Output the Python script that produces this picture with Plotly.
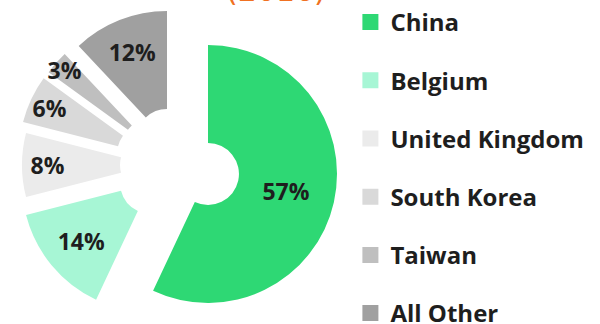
import plotly.graph_objects as go

# Share of imports by origin (percent)
countries = ["China", "Belgium", "United Kingdom", "South Korea", "Taiwan", "All Other"]
shares = [57, 14, 8, 6, 3, 12]
slice_labels = [f"{v}%" for v in shares]

# Styling
colors = ["#2ED874", "#A7F6D5", "#EBEBEB", "#D9D9D9", "#BFBFBF", "#A0A0A0"]
W, H = 600, 324
CX, CY, R = 208, 174, 129          # donut centre and outer radius, px
HOLE = 0.24
# exploded offset of each wedge from the donut centre, px (dx right, dy down)
explode = {
    "China": (0, 0),
    "Belgium": (-57, 9),
    "United Kingdom": (-57, -9),
    "South Korea": (-60, -20),
    "Taiwan": (-55, -26),
    "All Other": (-41, -34),
}
FONT = "Open Sans"

fig = go.Figure()

# One pie per wedge: every trace lays out all values so the angles are shared,
# but only its own wedge is painted, which lets each wedge sit at its own offset.
for i, name in enumerate(countries):
    dx, dy = explode[name]
    cx, cy = CX + dx, CY + dy
    fig.add_trace(go.Pie(
        labels=countries,
        values=shares,
        sort=False,
        direction="clockwise",
        rotation=0,
        hole=HOLE,
        marker=dict(
            colors=[colors[j] if j == i else "rgba(0,0,0,0)" for j in range(len(countries))],
            line=dict(width=0),
        ),
        text=[slice_labels[j] if j == i else "" for j in range(len(countries))],
        textinfo="text",
        textposition="inside",
        insidetextorientation="horizontal",
        textfont=dict(family=FONT, size=23, color="#1E1E1E", weight="bold"),
        hoverinfo=["label+percent" if j == i else "none" for j in range(len(countries))],
        domain=dict(
            x=[(cx - R) / W, (cx + R) / W],
            y=[1 - (cy + R) / H, 1 - (cy - R) / H],
        ),
        showlegend=False,
    ))

# Legend entries
for name, col in zip(countries, colors):
    fig.add_trace(go.Scatter(
        x=[None], y=[None], mode="markers", name=name, legendgroup=name,
        marker=dict(symbol="square", size=17, color=col),
        showlegend=True, hoverinfo="skip",
    ))

fig.add_annotation(
    text="(2016)", xref="paper", yref="paper",
    x=276 / W, y=1 - 10 / H, xanchor="center", yanchor="bottom",
    showarrow=False,
    font=dict(family="DejaVu Sans", size=30, color="#F07122"),
)

fig.update_layout(
    width=W, height=H,
    margin=dict(l=0, r=0, t=0, b=0),
    paper_bgcolor="white", plot_bgcolor="white",
    xaxis=dict(visible=False), yaxis=dict(visible=False),
    uniformtext=dict(minsize=23, mode="show"),
    legend=dict(
        x=0.584, y=1.0, xanchor="left", yanchor="top",
        font=dict(family=FONT, size=24, color="#1E1E1E", weight="bold"),
        tracegroupgap=24, traceorder="grouped",
        bgcolor="rgba(0,0,0,0)", borderwidth=0,
        maxheight=400,
    ),
)

fig.write_html("out.html")
